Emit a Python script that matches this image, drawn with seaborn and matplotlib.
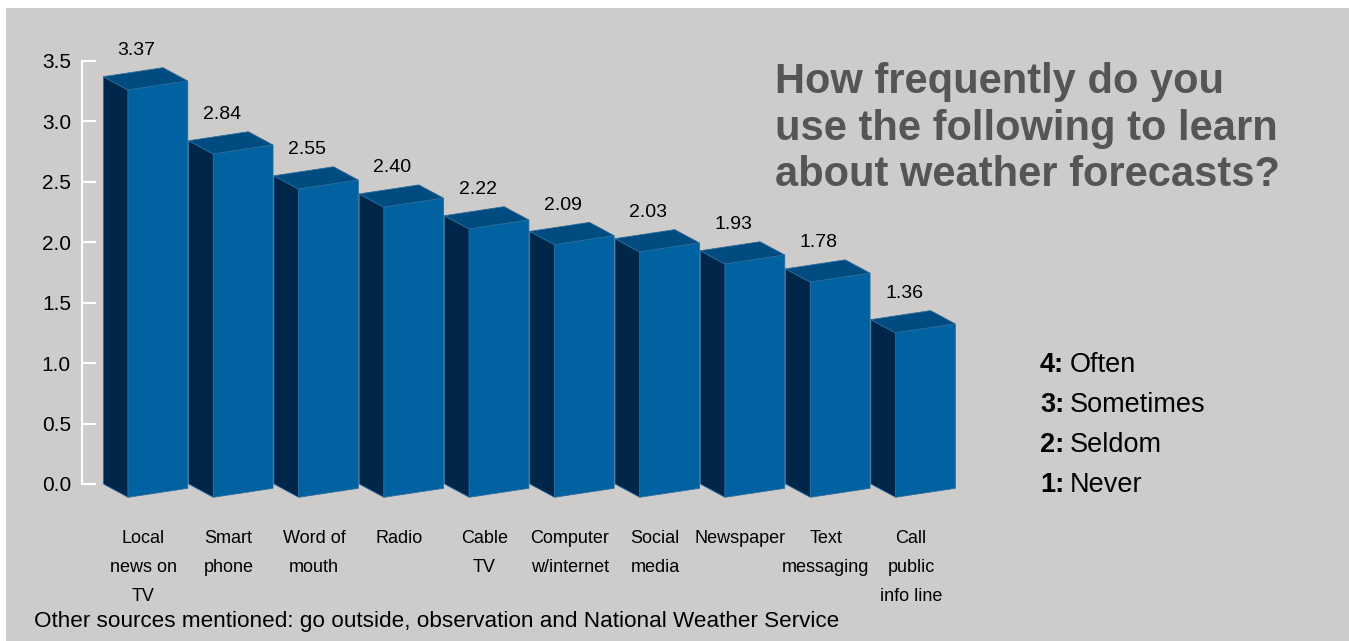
import numpy as np
import pandas as pd
import matplotlib
matplotlib.use('Agg')
import matplotlib.pyplot as plt
from matplotlib.patches import Rectangle, Polygon
import seaborn as sns

W, H = 1349, 641

# ── data ──
SOURCES = ['Local\nnews on\nTV', 'Smart\nphone', 'Word of\nmouth', 'Radio', 'Cable\nTV',
           'Computer\nw/internet', 'Social\nmedia', 'Newspaper', 'Text\nmessaging',
           'Call\npublic\ninfo line']
MEANS = [3.37, 2.84, 2.55, 2.40, 2.22, 2.09, 2.03, 1.93, 1.78, 1.36]
Y_TICKS = [0.0, 0.5, 1.0, 1.5, 2.0, 2.5, 3.0, 3.5]
SCALE_NUM = ['4:', '3:', '2:', '1:']
SCALE_TXT = ['Often', 'Sometimes', 'Seldom', 'Never']
TITLE_LINES = ['How frequently do you', 'use the following to learn',
               'about weather forecasts?']
NOTE = 'Other sources mentioned: go outside, observation and National Weather Service'

# ── style ──
FRONT = '#0062a0'
SIDE  = '#00264a'
TOP   = '#004c80'
EDGE  = '#2a6a9c'
BG    = '#cdccca'
SANS  = ['Liberation Sans', 'DejaVu Sans']

BAR_W = 0.70
DX, DY = 0.29, -0.11    # depth offset: front face sits lower right of back face
SLANT  = 0.0745         # horizontal edges rise slightly to the right

sns.set_theme(style='white')
plt.rcParams['font.family'] = SANS

def fx(px): return px / W
def fy(py): return 1 - py / H

df = pd.DataFrame({'source': SOURCES, 'mean': MEANS})

fig = plt.figure(figsize=(W / 100, H / 100), dpi=100, facecolor='white')
fig.patches.append(Rectangle((fx(6), 0), 1, 1 - 8 / H, transform=fig.transFigure,
                             facecolor=BG, edgecolor='none', zorder=-10))

ax = fig.add_axes([fx(82), fy(514.2), (977.5 - 82) / W, (514.2 - 48.9) / H])
ax.set_facecolor('none')
ax.set_zorder(1)

sns.barplot(data=df, x='source', y='mean', color=FRONT, width=BAR_W,
            saturation=1, ax=ax, zorder=1)

# ── 3D faces built from the seaborn bars ──
bars = list(ax.patches)
for k, p in enumerate(bars):
    xl, w, v = p.get_x(), p.get_width(), p.get_height()
    xr = xl + w
    side  = [(xl, 0), (xl + DX, DY), (xl + DX, v + DY), (xl, v)]
    top   = [(xl, v), (xr, v + SLANT), (xr + DX, v + SLANT + DY), (xl + DX, v + DY)]
    front = [(xl + DX, DY), (xr + DX, SLANT + DY), (xr + DX, v + SLANT + DY), (xl + DX, v + DY)]
    z = 2 + k * 0.01
    for pts, col in [(side, SIDE), (top, TOP), (front, FRONT)]:
        ax.add_patch(Polygon(pts, closed=True, facecolor=col, edgecolor=EDGE,
                             linewidth=0.6, zorder=z))
    ax.text(xl + w / 2 + 0.04, v + SLANT + 0.07, f'{v:.2f}', ha='center', va='bottom',
            fontsize=14, color='black', zorder=5)

ax.set_xlim(-0.6, 9.9)
ax.set_ylim(-0.25, 3.6)
ax.set_yticks(Y_TICKS, [f'{t:.1f}' for t in Y_TICKS])
ax.set_xticks(np.arange(len(SOURCES)) + 0.12)
ax.set_xticklabels(SOURCES, linespacing=1.9, fontsize=13)
ax.tick_params(axis='y', direction='in', length=10, width=1.5, color='white',
               pad=8, labelsize=15, labelcolor='black', left=True)
ax.tick_params(axis='x', length=0, pad=11.5, labelcolor='black')
ax.set_xlabel('')
ax.set_ylabel('')
for s in ['top', 'right', 'bottom']:
    ax.spines[s].set_visible(False)
ax.spines['left'].set_color('white')
ax.spines['left'].set_linewidth(1.5)
ax.spines['left'].set_bounds(0, 3.5)

# ── title ──
for k, line in enumerate(TITLE_LINES):
    fig.text(fx(775), fy(93 + 46.7 * k), line, va='baseline', ha='left',
             fontsize=30, fontweight='bold', color='#555555')

# ── scale key ──
for k, (n, t) in enumerate(zip(SCALE_NUM, SCALE_TXT)):
    yy = fy(365 + 40 * k)
    fig.text(fx(1040), yy, n, va='center', ha='left', fontsize=19.5,
             fontweight='bold', color='black')
    fig.text(fx(1070), yy, t, va='center', ha='left', fontsize=19.5,
             color='black')

fig.text(fx(34), fy(622), NOTE, va='center', ha='left', fontsize=16.2,
         color='black')

fig.savefig('out.png', dpi=100, facecolor=fig.get_facecolor())
